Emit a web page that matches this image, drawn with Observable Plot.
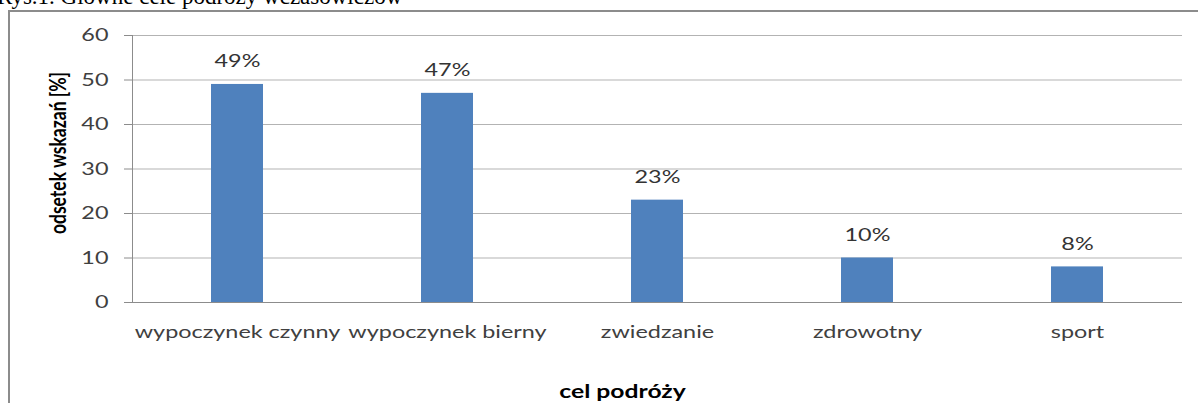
<!DOCTYPE html>
<html><head><meta charset="utf-8">
<script src="https://cdn.jsdelivr.net/npm/d3@7"></script>
<script src="https://cdn.jsdelivr.net/npm/@observablehq/plot@0.6"></script>
<style>
body{margin:0;background:#fff;}
#wrap{position:relative;width:1198px;height:403px;overflow:hidden;background:#fff;}
#border{position:absolute;left:8px;top:10px;width:1300px;height:500px;border:2px solid #8c8c8c;box-sizing:border-box;}
#chart{position:absolute;left:0;top:0;}
</style></head><body>
<div id="wrap"><div id="border"></div><div id="chart"></div></div>
<script>
const categories = ["wypoczynek czynny", "wypoczynek bierny", "zwiedzanie", "zdrowotny", "sport"];
const values = [49, 47, 23, 10, 8];
const valueLabels = ["49%", "47%", "23%", "10%", "8%"];
const yTicks = [0, 10, 20, 30, 40, 50, 60];
const title = "Rys.1. Główne cele podróży wczasowiczów";
const xTitle = "cel podróży";
const yTitle = "odsetek wskazań [%]";

const data = categories.map((c, i) => ({cat: c, value: values[i], label: valueLabels[i]}));

const plot = Plot.plot({
  width: 1198, height: 403,
  marginLeft: 132, marginRight: 16, marginTop: 35, marginBottom: 101,
  style: {background: "transparent", fontFamily: "Lato", fontSize: "18px", color: "#404040", overflow: "visible"},
  x: {domain: categories, paddingInner: 0.752, paddingOuter: 0.376, label: null},
  y: {domain: [0, 60], label: null},
  marks: [
    Plot.gridY(yTicks, {stroke: "#b3b3b3", strokeOpacity: 1}),
    Plot.frame({anchor: "left", stroke: "#8c8c8c"}),
    Plot.axisY(yTicks, {tickSize: 8, tickPadding: 16, stroke: "#8c8c8c", fill: "#404040", label: null, fontSize: 18}),
    Plot.axisX({tickSize: 0, tickPadding: 23, label: null, fill: "#404040", fontSize: 18}),
    Plot.barY(data, {x: "cat", y: "value", fill: "#4f81bd"}),
    Plot.text(data, {x: "cat", y: "value", text: "label", dy: -23, fill: "#333", fontSize: 18}),
    Plot.text([xTitle], {frameAnchor: "bottom", dx: -35, dy: 95, fontWeight: "bold", fill: "#000", fontSize: 19}),
    Plot.text([yTitle], {frameAnchor: "left", textAnchor: "middle", lineAnchor: "middle", dx: -74, dy: -16, rotate: -90, fontWeight: "bold", fill: "#000", fontSize: 17.5}),
    Plot.ruleY([0], {stroke: "#8c8c8c"})
  ]
});
document.getElementById("chart").appendChild(plot);

const svg = d3.select(plot);
svg.append("text")
  .attr("x", -3).attr("y", 4)
  .attr("text-anchor", "start")
  .attr("font-family", "'Liberation Serif', serif")
  .attr("font-size", 23)
  .attr("fill", "#000")
  .text(title);

// the reference image is stretched horizontally (~1.3x)
const k = 1.3;
const ns = "http://www.w3.org/2000/svg";
plot.querySelectorAll("text").forEach(t => {
  if (t.textContent === title) return;
  if (t.textContent === yTitle) {
    const r = t.getBoundingClientRect();
    const s = plot.getBoundingClientRect();
    const cx = r.left - s.left + r.width / 2;
    const markG = t.closest("g[aria-label]") || t.parentNode;
    const g = document.createElementNS(ns, "g");
    g.setAttribute("transform", `translate(${cx},0) scale(${k},1) translate(${-cx},0)`);
    markG.parentNode.insertBefore(g, markG);
    g.appendChild(markG);
    return;
  }
  const len = t.getComputedTextLength();
  t.setAttribute("textLength", len * k);
  t.setAttribute("lengthAdjust", "spacingAndGlyphs");
});
</script>
</body></html>
